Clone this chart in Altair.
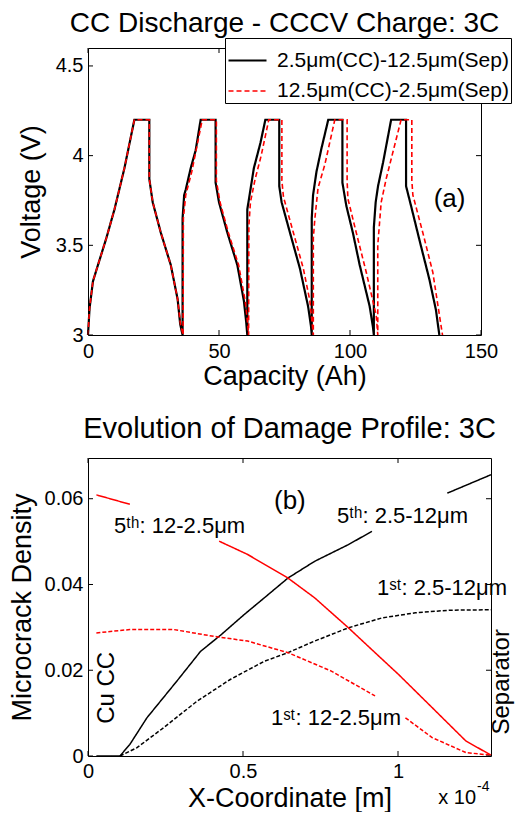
import altair as alt
import pandas as pd

FONT = "Liberation Sans"

# ---------------- Panel (a) data ----------------
series_a = ["2.5\u03bcm(CC)-12.5\u03bcm(Sep)", "12.5\u03bcm(CC)-2.5\u03bcm(Sep)"]

black_cap = [0, 0.6, 1.9, 3.8, 7.0, 10.1, 13.9, 17.7, 23.4, 23.4, 24.7, 27.8, 31.6, 34.2, 35.2, 36.1,
             36.1, 36.7, 37.3, 39.2, 41.1, 43.0, 48.7, 48.7, 50.0, 53.2, 57.0, 59.5, 60.4, 60.8,
             60.8, 62.0, 63.3, 65.8, 67.7, 73.0, 73.0, 73.9, 77.1, 80.9, 84.0, 85.1, 85.4,
             85.4, 85.9, 87.2, 89.1, 91.7, 97.1, 97.1, 98.6, 101.1, 103.7, 107.5, 108.7, 109.1,
             109.1, 109.8, 110.7, 112.6, 115.7, 121.4, 121.4, 123.3, 126.5, 130.3, 132.8, 134.1]
black_volt = [3.0, 3.15, 3.3, 3.39, 3.54, 3.7, 3.93, 4.2, 4.2, 3.87, 3.74, 3.57, 3.39, 3.2, 3.06, 3.0,
              3.65, 3.78, 3.81, 3.93, 4.03, 4.2, 4.2, 3.85, 3.74, 3.57, 3.39, 3.19, 3.07, 3.0,
              3.7, 3.81, 3.93, 4.07, 4.2, 4.2, 3.83, 3.74, 3.57, 3.37, 3.16, 3.05, 3.0,
              3.65, 3.78, 3.91, 4.04, 4.2, 4.2, 3.85, 3.72, 3.57, 3.39, 3.16, 3.05, 3.0,
              3.6, 3.74, 3.83, 3.96, 4.2, 4.2, 3.83, 3.72, 3.53, 3.31, 3.14, 3.0]

red_cap = [0, 0.6, 1.9, 3.8, 7.0, 10.1, 13.9, 17.7, 23.4, 23.4, 24.7, 27.8, 31.6, 34.2, 35.3, 36.3,
           36.4, 37.3, 39.6, 41.4, 43.6, 49.0, 49.0, 50.4, 53.6, 57.5, 60.0, 60.9, 61.3,
           61.4, 62.0, 63.8, 66.1, 69.0, 74.0, 74.0, 74.6, 78.4, 82.2, 84.7, 86.0,
           86.0, 86.6, 87.8, 90.4, 94.2, 98.9, 98.9, 99.2, 102.4, 106.2, 110.0, 110.6,
           110.6, 111.9, 113.8, 117.6, 119.5, 123.6, 123.6, 124.0, 127.8, 131.6, 135.3]
red_volt = [3.0, 3.15, 3.3, 3.39, 3.54, 3.7, 3.93, 4.2, 4.2, 3.87, 3.74, 3.57, 3.39, 3.2, 3.06, 3.0,
            3.65, 3.78, 3.91, 4.04, 4.2, 4.2, 3.86, 3.74, 3.57, 3.39, 3.19, 3.07, 3.0,
            3.61, 3.74, 3.87, 4.0, 4.2, 4.2, 3.86, 3.77, 3.57, 3.37, 3.19, 3.0,
            3.54, 3.65, 3.82, 3.95, 4.2, 4.2, 3.86, 3.76, 3.57, 3.35, 3.11, 3.0,
            3.5, 3.74, 3.87, 4.09, 4.2, 4.2, 3.86, 3.78, 3.57, 3.35, 3.0]

xticks_a = [0, 50, 100, 150]
yticks_a = [3, 3.5, 4, 4.5]

# ---------------- Panel (b) data ----------------
b_names = ["5th: 2.5-12", "1st: 2.5-12", "5th: 12-2.5", "1st: 12-2.5"]
b_colors = ["black", "black", "red", "red"]
b_dashes = [[1, 0], [4, 2], [1, 0], [4, 2]]

black5_x = [0.027, 0.103, 0.135, 0.19, 0.287, 0.363, 0.428, 0.504, 0.569, 0.645, 0.731, 0.84, 0.916, 1.159, 1.3]
black5_y = [0, 0, 0.0027, 0.0089, 0.0175, 0.0244, 0.0282, 0.033, 0.0369, 0.0415, 0.0454, 0.0493, 0.0524, 0.0613, 0.0656]
black5_seg = [0, 0, 0, 0, 0, 0, 0, 0, 0, 0, 0, 0, 0, 1, 1]

black1_x = [0.103, 0.157, 0.244, 0.352, 0.46, 0.569, 0.645, 0.731, 0.84, 0.948, 1.056, 1.165, 1.3]
black1_y = [0, 0.0019, 0.0066, 0.0128, 0.0179, 0.0221, 0.0241, 0.0268, 0.0299, 0.0322, 0.0334, 0.034, 0.0341]
black1_seg = [0] * 13

red5_x = [0.027, 0.135, 0.423, 0.515, 0.645, 0.731, 0.84, 0.926, 1.002, 1.11, 1.219, 1.3]
red5_y = [0.0609, 0.0587, 0.0501, 0.047, 0.0415, 0.0369, 0.0299, 0.0241, 0.019, 0.0113, 0.0035, 0.0002]
red5_seg = [0, 0, 1, 1, 1, 1, 1, 1, 1, 1, 1, 1]

red1_x = [0.027, 0.135, 0.276, 0.406, 0.515, 0.645, 0.785, 0.926, 1.024, 1.11, 1.219, 1.3]
red1_y = [0.0287, 0.0295, 0.0295, 0.0279, 0.0268, 0.0241, 0.0198, 0.014, 0.0089, 0.0043, 0.0008, 0.0002]
red1_seg = [0, 0, 0, 0, 0, 0, 0, 0, 1, 1, 1, 1]

xticks_b = [0, 0.5, 1]
yticks_b = [0, 0.02, 0.04, 0.06]

# annotations of panel (b)
ann_b_text = ["(b)", "5\u1d57\u02b0: 2.5-12\u03bcm", "5\u1d57\u02b0: 12-2.5\u03bcm", "1\u02e2\u1d57: 2.5-12\u03bcm", "1\u02e2\u1d57: 12-2.5\u03bcm"]
ann_b_x = [0.6, 0.803, 0.084, 0.932, 0.59]
ann_b_y = [0.0595, 0.056, 0.0536, 0.0392, 0.0089]
ann_b_size = [26, 22, 22, 22, 22]

# ---------------- build panel (a) ----------------
W1, H1 = 393, 287
rows = []
for i, (c, v) in enumerate(zip(black_cap, black_volt)):
    rows.append({"series": series_a[0], "cap": c, "volt": v, "idx": i})
for i, (c, v) in enumerate(zip(red_cap, red_volt)):
    rows.append({"series": series_a[1], "cap": c, "volt": v, "idx": i})
dfa = pd.DataFrame(rows)

leg = alt.Legend(orient="none", legendX=137, legendY=-10, title=None,
                 fillColor="white", strokeColor="black", padding=2,
                 labelFontSize=21, labelFont=FONT, labelColor="black",
                 symbolType="stroke", symbolSize=1444, symbolStrokeWidth=2,
                 labelLimit=500, labelOffset=9, rowPadding=-7)

xa = alt.X("cap:Q", scale=alt.Scale(domain=[0, 150], nice=False, zero=False),
           axis=alt.Axis(values=xticks_a, title="Capacity (Ah)", labelFlush=False, format="d",
                         ticks=False, domain=False, grid=False, labelPadding=6, titlePadding=2))
ya = alt.Y("volt:Q", scale=alt.Scale(domain=[3, 4.6], nice=False, zero=False),
           axis=alt.Axis(values=yticks_a, title="Voltage (V)", labelFlush=False, format="~g",
                         ticks=False, domain=False, grid=False, labelPadding=5, titlePadding=10))

lines_a = alt.Chart(dfa).mark_line().encode(
    x=xa, y=ya,
    color=alt.Color("series:N", scale=alt.Scale(domain=series_a, range=["black", "red"]), legend=leg),
    strokeDash=alt.StrokeDash("series:N", scale=alt.Scale(domain=series_a, range=[[1, 0], [5, 3]]), legend=leg),
    strokeWidth=alt.StrokeWidth("series:N", scale=alt.Scale(domain=series_a, range=[2.2, 1.6]), legend=None),
    order="idx:Q",
)

tx_a = pd.DataFrame({"cap": xticks_a})
ty_a = pd.DataFrame({"volt": yticks_a})
ticks_a = (
    alt.Chart(tx_a).mark_rule(color="black").encode(x="cap:Q", y=alt.value(H1), y2=alt.value(H1 - 5))
    + alt.Chart(tx_a).mark_rule(color="black").encode(x="cap:Q", y=alt.value(0), y2=alt.value(5))
    + alt.Chart(ty_a).mark_rule(color="black").encode(y="volt:Q", x=alt.value(0), x2=alt.value(5))
    + alt.Chart(ty_a).mark_rule(color="black").encode(y="volt:Q", x=alt.value(W1), x2=alt.value(W1 - 5))
)

lab_a = alt.Chart(pd.DataFrame({"cap": [138], "volt": [3.76], "t": ["(a)"]})).mark_text(
    font=FONT, fontSize=26, color="black").encode(x="cap:Q", y="volt:Q", text="t:N")

top = alt.layer(lines_a, ticks_a, lab_a).properties(
    width=W1, height=H1,
    title=alt.TitleParams("CC Discharge - CCCV Charge: 3C", fontSize=28, font=FONT,
                          fontWeight="normal", color="black", offset=0),
)

# ---------------- build panel (b) ----------------
W2, H2 = 403, 298
rows = []
for name, xs, ys, segs in [
    (b_names[0], black5_x, black5_y, black5_seg),
    (b_names[1], black1_x, black1_y, black1_seg),
    (b_names[2], red5_x, red5_y, red5_seg),
    (b_names[3], red1_x, red1_y, red1_seg),
]:
    for i, (x, y, s) in enumerate(zip(xs, ys, segs)):
        rows.append({"curve": name, "seg": f"{name}-{s}", "x": x, "y": y, "idx": i})
dfb = pd.DataFrame(rows)

xb = alt.X("x:Q", scale=alt.Scale(domain=[0, 1.3], nice=False, zero=False),
           axis=alt.Axis(values=xticks_b, title="X-Coordinate [m]", labelFlush=False, format="~g",
                         ticks=False, domain=False, grid=False, labelPadding=5, titlePadding=4))
yb = alt.Y("y:Q", scale=alt.Scale(domain=[0, 0.0695], nice=False, zero=False),
           axis=alt.Axis(values=yticks_b, title="Microcrack Density", labelFlush=False, format="~g",
                         ticks=False, domain=False, grid=False, labelPadding=5, titlePadding=8))

lines_b = alt.Chart(dfb).mark_line(strokeWidth=1.5).encode(
    x=xb, y=yb,
    color=alt.Color("curve:N", scale=alt.Scale(domain=b_names, range=b_colors), legend=None),
    strokeDash=alt.StrokeDash("curve:N", scale=alt.Scale(domain=b_names, range=b_dashes), legend=None),
    detail="seg:N",
    order="idx:Q",
)

tx_b = pd.DataFrame({"x": xticks_b})
ty_b = pd.DataFrame({"y": yticks_b})
ticks_b = (
    alt.Chart(tx_b).mark_rule(color="black").encode(x="x:Q", y=alt.value(H2), y2=alt.value(H2 - 5))
    + alt.Chart(tx_b).mark_rule(color="black").encode(x="x:Q", y=alt.value(0), y2=alt.value(5))
    + alt.Chart(ty_b).mark_rule(color="black").encode(y="y:Q", x=alt.value(0), x2=alt.value(5))
    + alt.Chart(ty_b).mark_rule(color="black").encode(y="y:Q", x=alt.value(W2), x2=alt.value(W2 - 5))
)

dfann = pd.DataFrame({"t": ann_b_text, "x": ann_b_x, "y": ann_b_y, "s": ann_b_size})
ann_b = alt.Chart(dfann).mark_text(font=FONT, color="black", align="left", baseline="middle").encode(
    x="x:Q", y="y:Q", text="t:N", size=alt.Size("s:Q", scale=None, legend=None))

side_b = alt.Chart(pd.DataFrame({"t": ["Cu CC", "Separator"], "x": [0.06, 1.335], "y": [0.0159, 0.0173]})).mark_text(
    font=FONT, fontSize=24, color="black", angle=270, baseline="middle").encode(x="x:Q", y="y:Q", text="t:N")

exp_main = alt.Chart(pd.DataFrame({"t": ["x 10"], "x": [1.252], "y": [-0.0098]})).mark_text(
    font=FONT, fontSize=20, color="black", align="right", baseline="middle").encode(x="x:Q", y="y:Q", text="t:N")
exp_sup = alt.Chart(pd.DataFrame({"t": ["-4"], "x": [1.255], "y": [-0.0072]})).mark_text(
    font=FONT, fontSize=14, color="black", align="left", baseline="middle").encode(x="x:Q", y="y:Q", text="t:N")

bottom = alt.layer(lines_b, ticks_b, ann_b, side_b, exp_main, exp_sup).properties(
    width=W2, height=H2,
    title=alt.TitleParams("Evolution of Damage Profile: 3C", fontSize=29, font=FONT,
                          fontWeight="normal", color="black", offset=14),
)

chart = alt.vconcat(top, bottom, spacing=24).resolve_scale(
    color="independent", strokeDash="independent", strokeWidth="independent",
    x="independent", y="independent",
).properties(
    padding={"left": 7, "top": 9, "right": 0, "bottom": 0}
).configure_axis(
    labelFont=FONT, labelFontSize=20, labelColor="black",
    titleFont=FONT, titleFontSize=27, titleColor="black", titleFontWeight="normal",
).configure_view(stroke="black", strokeWidth=1)

chart.save("out.html", embed_options={"renderer": "svg", "actions": False})
